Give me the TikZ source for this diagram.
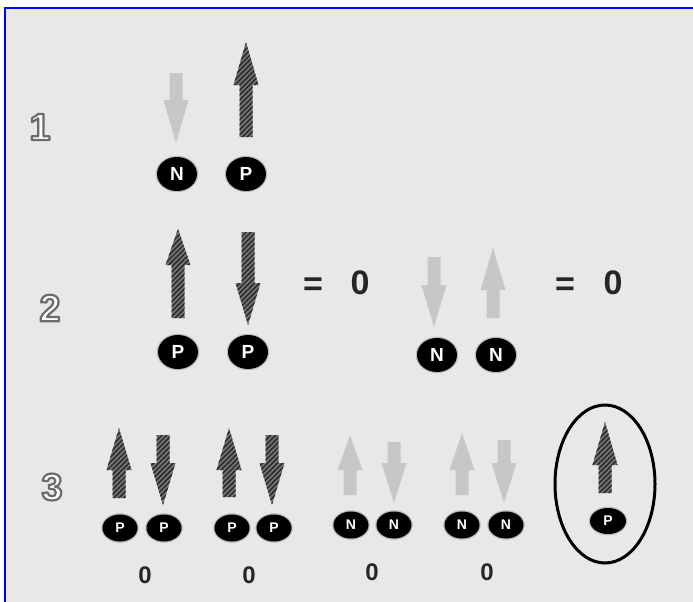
\documentclass[tikz,border=0pt]{standalone}
\usepackage{fontspec}
\setmainfont{Liberation Sans}
\usepackage{tikz}
\usetikzlibrary{shapes.geometric, patterns.meta}
\definecolor{panel}{RGB}{232,232,232}
\definecolor{watermark}{RGB}{160,184,224}

% one spin arrow: style, x, tip/tail y, head base y, other end y
\newcommand{\spin}[5]{%
  \path[#1] (#2,#3) -- ({#2+12.5},#4) -- ({#2+6.5},#4) -- ({#2+6.5},#5)
    -- ({#2-6.5},#5) -- ({#2-6.5},#4) -- ({#2-12.5},#4) -- cycle;}
% white digit with a grey outline
\newcommand{\stepdigit}[1]{\color{white}%
  \special{pdf:literal direct 2 Tr 2.2 w 1 j 0.42 G}#1\special{pdf:literal direct 0 Tr}}

\tikzset{
  nucleon/.style={ellipse, fill=black, text=white, inner sep=0pt,
    minimum width=40pt, minimum height=34pt, font=\bfseries\fontsize{19}{20}\selectfont,
    preaction={draw=black!45, line width=2.5pt, opacity=0.5}},
  small nucleon/.style={nucleon, minimum width=35pt, minimum height=27pt,
    font=\bfseries\fontsize{14}{15}\selectfont},
  proton spin/.style={fill=black!55,
    postaction={pattern={Lines[angle=45,distance=3.5pt,line width=1.4pt]}, pattern color=black!85}},
  neutron spin/.style={fill=black!22},
  sum/.style={font=\bfseries\fontsize{34}{36}\selectfont, text=black!85},
  pair sum/.style={font=\bfseries\fontsize{24}{26}\selectfont, text=black!85},
  stepnum/.style={font=\bfseries\fontsize{38}{40}\selectfont}
}

\begin{document}
\begin{tikzpicture}[x=1pt, y=-1pt]
  \useasboundingbox (0,0) rectangle (693,602);
  \fill[white] (0,0) rectangle (693,602);
  \fill[panel] (5,8) rectangle (693,602);
  \draw[blue, line width=2pt] (5,602) -- (5,8) -- (693,8);

  % step numbers
  \foreach \num/\px/\py in {1/40/127, 2/50/308, 3/52/487}
    \node[stepnum] (step\num) at (\px,\py) {\stepdigit{\num}};

  % row 1
  \spin{neutron spin}{176}{143}{100}{73}
  \spin{proton spin}{246}{42}{85}{137}
  \node[nucleon] (n1) at (177,174) {N};
  \node[nucleon] (p1) at (246,174) {P};

  % row 2
  \spin{proton spin}{178}{229}{265}{318}
  \spin{proton spin}{248}{325}{283}{232}
  \node[nucleon] (p2a) at (178,352) {P};
  \node[nucleon] (p2b) at (248,352) {P};
  \node[sum] (eq2a) at (313,287) {=};
  \node[sum] (zero2a) at (360,283) {0};
  \spin{neutron spin}{434}{327}{285}{257}
  \spin{neutron spin}{493}{248}{290}{318}
  \node[nucleon] (n2a) at (437,355) {N};
  \node[nucleon] (n2b) at (496,355) {N};
  \node[sum] (eq2b) at (565,287) {=};
  \node[sum] (zero2b) at (613,283) {0};

  % row 3
  \spin{proton spin}{119}{428}{470}{498}
  \spin{proton spin}{163}{505}{463}{435}
  \spin{proton spin}{229}{428}{470}{497}
  \spin{proton spin}{272}{505}{463}{435}
  \spin{neutron spin}{350}{435}{470}{495}
  \spin{neutron spin}{394}{503}{463}{442}
  \spin{neutron spin}{462}{433}{470}{495}
  \spin{neutron spin}{504}{503}{463}{440}
  \node[small nucleon] (p3a) at (120,528) {P};
  \node[small nucleon] (p3b) at (164,528) {P};
  \node[small nucleon] (p3c) at (232,528) {P};
  \node[small nucleon] (p3d) at (274,528) {P};
  \node[small nucleon] (n3a) at (351,525) {N};
  \node[small nucleon] (n3b) at (394,525) {N};
  \node[small nucleon] (n3c) at (462,525) {N};
  \node[small nucleon] (n3d) at (506,525) {N};
  \node[pair sum] (zero3a) at (145,575) {0};
  \node[pair sum] (zero3b) at (249,575) {0};
  \node[pair sum] (zero3c) at (372,572) {0};
  \node[pair sum] (zero3d) at (487,572) {0};

  % the unpaired proton
  \spin{proton spin}{605}{422}{465}{493}
  \node[small nucleon, minimum width=36pt, minimum height=26pt] (p3e) at (608,521) {P};
  \node[ellipse, draw=black, line width=3pt, minimum width=100pt,
    minimum height=158pt] (odd) at (605,484) {};
\end{tikzpicture}
\end{document}
